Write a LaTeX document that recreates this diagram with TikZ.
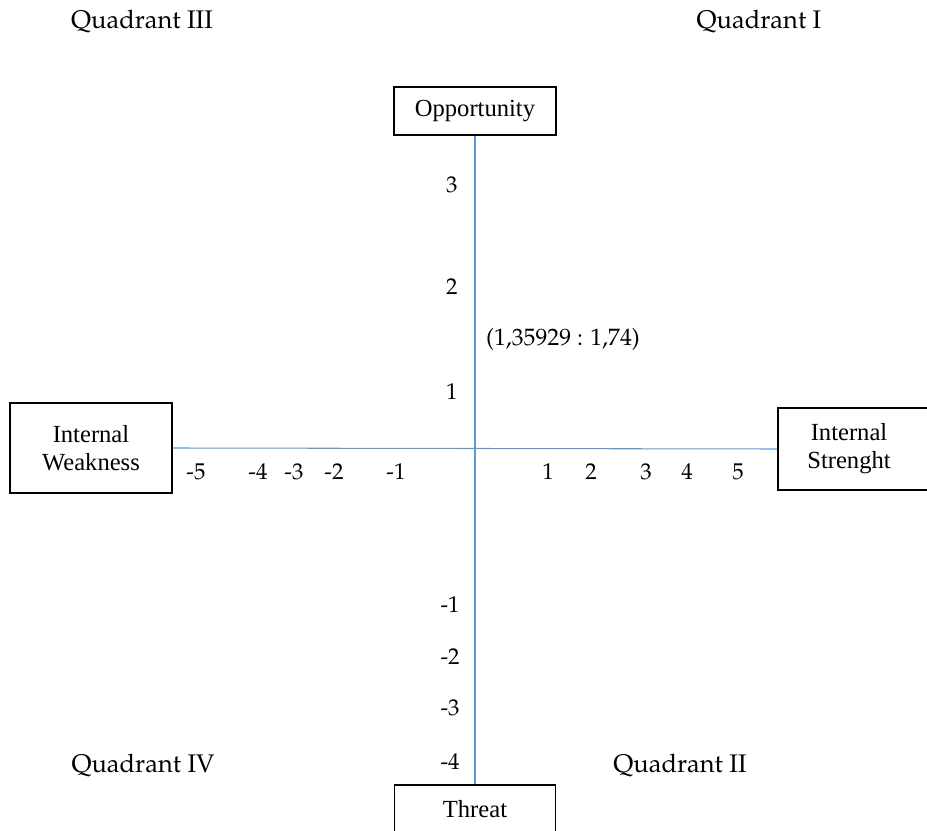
\documentclass[tikz,border=0pt]{standalone}
\usepackage{fontspec}
\setmainfont{Liberation Serif}
\usetikzlibrary{positioning}
\newcommand\palfont{\fontencoding{T1}\fontfamily{ppl}\selectfont}

\begin{document}
\begin{tikzpicture}[x=0.02cm,y=-0.02cm]
	\tikzstyle{box} = [draw,line width=1.1pt,align=center,inner sep=0pt,font=\fontsize{14}{16}\selectfont]
	\tikzstyle{axis} = [draw={rgb,255:red,91;green,155;blue,213},line width=0.6pt]
	\tikzstyle{lbl} = [inner sep=0pt,font=\palfont\fontsize{13}{15}\selectfont]
	\tikzstyle{quad} = [inner sep=0pt,font=\palfont\fontsize{14.5}{16}\selectfont]
	\clip (0,0) rectangle (927,831);
	\useasboundingbox (0,0) rectangle (927,831);

	\node[box,minimum width=3.24cm,minimum height=0.96cm] (Opportunity) at (475,111) {Opportunity};
	\node[box,minimum width=3.24cm,minimum height=1.8cm] (Weakness) at (91,448) {Internal\\Weakness};
	\node[box,minimum width=4cm,minimum height=1.64cm] (Strength) at (878,449) {\hspace*{-1.16cm}Internal\\\hspace*{-1.16cm}Strenght};
	\node[box,minimum width=3.22cm,minimum height=0.96cm] (Threat) at (475,809) {Threat};

	\draw[axis] (Opportunity.south) -- (Threat.north);
	\draw[axis] (Weakness.east) -- (Strength.west);

	\node[quad] (QuadIII) at (142,22) {Quadrant III};
	\node[quad] (QuadI) at (759,22) {Quadrant I};
	\node[quad] (QuadIV) at (143,766) {Quadrant IV};
	\node[quad] (QuadII) at (680,766) {Quadrant II};

	\node[lbl,anchor=east] (Y3) at (458,185) {3};
	\node[lbl,anchor=east] (Y2) at (458,287) {2};
	\node[lbl,anchor=east] (Y1) at (458,392) {1};
	\node[lbl,anchor=east] (Ym1) at (460,605) {-1};
	\node[lbl,anchor=east] (Ym2) at (460,657) {-2};
	\node[lbl,anchor=east] (Ym3) at (460,708) {-3};
	\node[lbl,anchor=east] (Ym4) at (460,762) {-4};

	\node[lbl] (Xm5) at (196,472) {-5};
	\node[lbl] (Xm4) at (258,472) {-4};
	\node[lbl] (Xm3) at (294,472) {-3};
	\node[lbl] (Xm2) at (334,472) {-2};
	\node[lbl] (Xm1) at (396,472) {-1};
	\node[lbl] (X1) at (548,472) {1};
	\node[lbl] (X2) at (591,472) {2};
	\node[lbl] (X3) at (646,472) {3};
	\node[lbl] (X4) at (687,472) {4};
	\node[lbl] (X5) at (738,472) {5};

	\node[lbl,font=\palfont\fontsize{13.5}{15}\selectfont] (Point) at (563,339) {(1,35929 : 1,74)};
\end{tikzpicture}
\end{document}
